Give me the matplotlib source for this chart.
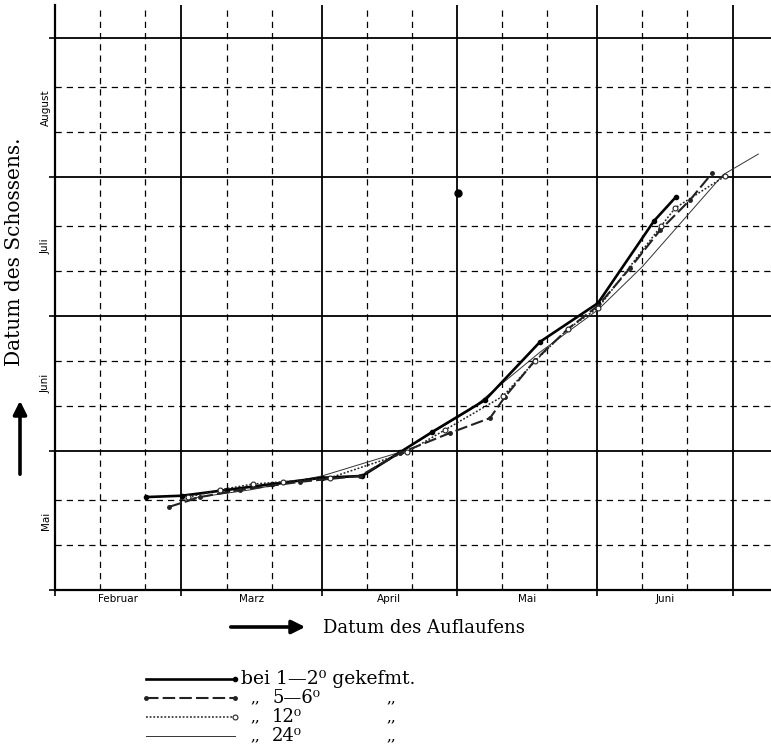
"""
Schossen gegen Auflaufen: Datum des Schossens je nach Keimtemperatur.
Achsen in Tagen des Jahres (1. Feb = 32, 1. Mai = 121 ...).
"""
import matplotlib.pyplot as plt
from matplotlib.lines import Line2D
from matplotlib.patches import FancyArrowPatch

W, H = 771, 756

# Monatsanfaenge (Tag im Jahr) und Beschriftungen
MONAT_X = [32, 60, 91, 121, 152, 182]
MONATE_X = ["Februar", "Marz", "April", "Mai", "Juni"]
MONAT_Y = [121, 152, 182, 213, 244]
MONATE_Y = ["Mai", "Juni", "Juli", "August"]

# bei 1-2 Grad gekeimt
x_1_2 = [52.2, 60.1, 70.1, 80.1, 91.1, 100.0, 108.4, 115.5, 127.2, 139.4, 152.2, 164.6, 169.5]
y_1_2 = [141.7, 142.0, 143.3, 144.6, 146.0, 146.4, 151.7, 156.2, 163.3, 176.3, 184.9, 203.2, 208.6]
# bei 5-6 Grad
x_5_6 = [57.2, 64.1, 73.0, 86.3, 99.5, 108.4, 119.5, 128.3, 131.6, 138.3, 145.6, 152.2, 159.3, 166.0, 172.6, 177.5]
y_5_6 = [139.5, 141.7, 143.3, 145.1, 146.4, 151.5, 156.0, 159.3, 164.0, 172.2, 179.2, 184.3, 192.7, 201.2, 207.9, 213.9]
# bei 12 Grad
x_12 = [61.5, 68.5, 75.8, 82.5, 92.9, 109.9, 118.4, 131.2, 138.3, 145.6, 152.2, 166.2, 169.3, 180.4]
y_12 = [141.7, 143.3, 144.6, 145.1, 146.0, 151.7, 156.7, 164.2, 172.0, 179.2, 183.8, 202.1, 206.1, 213.2]
# bei 24 Grad
x_24 = [59.7, 75.2, 91.1, 108.4, 123.9, 139.4, 152.2, 162.0, 179.9, 187.7]
y_24 = [141.1, 143.3, 146.4, 151.7, 161.1, 174.0, 183.4, 193.0, 213.5, 218.1]
# einzelner Punkt
x_punkt = [121.2]
y_punkt = [209.5]

SERIF = ["DejaVu Serif", "DejaVu Sans"]


def px(x, y):
    return x / W, 1 - y / H


fig = plt.figure(figsize=(W / 100, H / 100), dpi=100)
ax = fig.add_axes([55 / W, 1 - 590 / H, 716 / W, 585 / H])
ax.set_xlim(32, 190.5)
ax.set_ylim(121, 251.3)

# Gitter: Monatsanfang durchgezogen, 11. und 21. gestrichelt
for m in MONAT_X[1:]:
    ax.axvline(m, color="black", lw=1.3, zorder=1)
for m in MONAT_X:
    for d in (10, 20):
        if m + d < 190.5:
            ax.axvline(m + d, color="black", lw=0.9, ls=(0, (5, 4)), zorder=1)
for m in MONAT_Y[1:]:
    ax.axhline(m, color="black", lw=1.3, zorder=1)
for m in MONAT_Y[:-1]:
    for d in (10, 20):
        ax.axhline(m + d, color="black", lw=0.9, ls=(0, (5, 4)), zorder=1)

for s in ("top", "right"):
    ax.spines[s].set_visible(False)
for s in ("left", "bottom"):
    ax.spines[s].set_linewidth(1.6)

ax.set_xticks(MONAT_X)
ax.set_xticklabels([])
ax.set_yticks(MONAT_Y)
ax.set_yticklabels([])
ax.tick_params(which="major", direction="out", length=4, width=1.2)
ax.set_xticks([(a + b) / 2 for a, b in zip(MONAT_X[:-1], MONAT_X[1:])], minor=True)
ax.set_xticklabels(MONATE_X, minor=True, fontsize=7.5)
ax.set_yticks([(a + b) / 2 for a, b in zip(MONAT_Y[:-1], MONAT_Y[1:])], minor=True)
ax.set_yticklabels(MONATE_Y, minor=True, fontsize=7.5, rotation=90, va="center")
ax.tick_params(which="minor", length=0, pad=3)

# Kurven
ax.plot(x_1_2, y_1_2, color="black", lw=1.9, marker="o", ms=3, zorder=4)
ax.plot(x_5_6, y_5_6, color="#222222", lw=1.5, ls=(0, (6, 2)), marker="o", ms=2.5, zorder=4)
ax.plot(x_12, y_12, color="#222222", lw=1.1, ls=(0, (1.2, 1.2)), marker="o", ms=3.5,
        mfc="white", mec="#222222", mew=0.8, zorder=5)
ax.plot(x_24, y_24, color="#333333", lw=0.7, zorder=3)
ax.plot(x_punkt, y_punkt, "o", color="black", ms=5, zorder=5)

# Achsentitel mit Pfeilen
fig.text(*px(15, 252), "Datum des Schossens.", rotation=90, ha="center", va="center",
         fontsize=14.5, family=SERIF)
fig.add_artist(FancyArrowPatch(px(20, 477), px(20, 398), transform=fig.transFigure,
                               arrowstyle="-|>", mutation_scale=20, lw=2.6, color="black"))
fig.text(*px(323, 628), "Datum des Auflaufens", ha="left", va="center", fontsize=13,
         family=SERIF)
fig.add_artist(FancyArrowPatch(px(228, 627), px(308, 627), transform=fig.transFigure,
                               arrowstyle="-|>", mutation_scale=20, lw=2.6, color="black"))

# Legende
zeilen = [
    dict(color="black", lw=1.9, ls="-", marker="o", ms=3, markevery=[1]),
    dict(color="#222222", lw=1.5, ls=(0, (6, 2)), marker="o", ms=2.5, markevery=[0, 1]),
    dict(color="#222222", lw=1.1, ls=(0, (1.2, 1.2)), marker="o", ms=3.5, mfc="white",
         mew=0.8, markevery=[1]),
    dict(color="#333333", lw=0.7, ls="-"),
]
texte = ["1—2⁰", "5—6⁰", "12⁰", "24⁰"]
for i, (stil, t) in enumerate(zip(zeilen, texte)):
    y = 679 + i * 19
    x0, y0 = px(146, y)
    x1, _ = px(235, y)
    fig.add_artist(Line2D([x0, x1], [y0, y0], transform=fig.transFigure, **stil))
    if i == 0:
        fig.text(*px(241, y), "bei " + t + " gekefmt.", ha="left", va="center",
                 fontsize=13.5, family=SERIF)
    else:
        fig.text(*px(250, y), ",,", ha="left", va="center", fontsize=11, family=SERIF)
        fig.text(*px(272, y), t, ha="left", va="center", fontsize=13, family=SERIF)
        fig.text(*px(386, y), ",,", ha="left", va="center", fontsize=11, family=SERIF)

fig.savefig("out.png", dpi=100)
plt.close(fig)
